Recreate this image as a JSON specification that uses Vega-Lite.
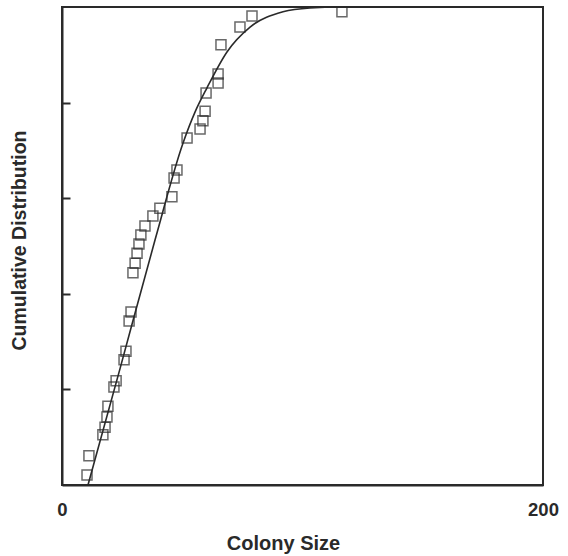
{
  "$schema": "https://vega.github.io/schema/vega-lite/v6.json",
  "width": 481,
  "height": 478,
  "autosize": "none",
  "padding": {"left": 62, "top": 7, "right": 25, "bottom": 71},
  "background": "white",
  "config": {
    "view": {"stroke": "#2a2a2a", "strokeWidth": 2},
    "font": "Liberation Sans",
    "axis": {"grid": false, "domainColor": "#2a2a2a", "domainWidth": 2, "tickColor": "#2a2a2a", "tickWidth": 2, "labelColor": "#2a2a2a", "titleColor": "#2a2a2a", "labelFont": "Liberation Sans", "titleFont": "Liberation Sans", "labelFontWeight": "bold", "titleFontWeight": "bold"}
  },
  "datasets": {
    "pts": [
      {"size": 10.4, "cum": 0.021}, {"size": 11.2, "cum": 0.061}, {"size": 17.0, "cum": 0.105}, {"size": 17.9, "cum": 0.121},
      {"size": 18.7, "cum": 0.142}, {"size": 19.1, "cum": 0.165}, {"size": 21.6, "cum": 0.205}, {"size": 22.5, "cum": 0.218},
      {"size": 25.8, "cum": 0.262}, {"size": 26.6, "cum": 0.280}, {"size": 27.9, "cum": 0.343}, {"size": 28.7, "cum": 0.362},
      {"size": 29.5, "cum": 0.444}, {"size": 30.4, "cum": 0.464}, {"size": 31.2, "cum": 0.485}, {"size": 32.0, "cum": 0.504},
      {"size": 32.8, "cum": 0.523}, {"size": 34.5, "cum": 0.542}, {"size": 37.8, "cum": 0.563}, {"size": 40.7, "cum": 0.579},
      {"size": 45.7, "cum": 0.603}, {"size": 46.6, "cum": 0.642}, {"size": 47.8, "cum": 0.659}, {"size": 52.0, "cum": 0.726},
      {"size": 57.4, "cum": 0.745}, {"size": 58.6, "cum": 0.762}, {"size": 59.5, "cum": 0.782}, {"size": 59.9, "cum": 0.820},
      {"size": 64.9, "cum": 0.841}, {"size": 64.9, "cum": 0.860}, {"size": 66.1, "cum": 0.921}, {"size": 74.0, "cum": 0.958},
      {"size": 79.0, "cum": 0.981}, {"size": 116.4, "cum": 0.990}
    ],
    "fit": [
      {"size": 10.8, "cum": 0.0}, {"size": 24.1, "cum": 0.243}, {"size": 38.7, "cum": 0.513}, {"size": 50.3, "cum": 0.715},
      {"size": 55.3, "cum": 0.780}, {"size": 60.3, "cum": 0.831}, {"size": 68.6, "cum": 0.906}, {"size": 78.2, "cum": 0.958},
      {"size": 91.9, "cum": 0.990}, {"size": 103.1, "cum": 0.998}, {"size": 115.6, "cum": 1.0}, {"size": 200, "cum": 1.0}
    ]
  },
  "layer": [
    {
      "data": {"name": "fit"},
      "mark": {"type": "line", "interpolate": "monotone", "color": "#2a2a2a", "strokeWidth": 1.6},
      "encoding": {
        "x": {"field": "size", "type": "quantitative", "scale": {"domain": [0, 200], "nice": false},
          "axis": {"title": "Colony Size", "values": [0, 200], "ticks": false, "labelFlush": false, "labelPadding": 15, "labelFontSize": 18.5, "titleFontSize": 20, "titleX": 221, "titleY": 64, "titleBaseline": "alphabetic", "titleAlign": "center"}},
        "y": {"field": "cum", "type": "quantitative", "scale": {"domain": [0, 1], "nice": false},
          "axis": {"title": "Cumulative Distribution", "values": [0.2, 0.4, 0.6, 0.8], "labels": false, "tickSize": -8, "titleFontSize": 19.5, "titleX": -43, "titleY": 233, "titleAngle": 270, "titleAlign": "center", "titleBaseline": "middle"}}
      }
    },
    {
      "data": {"name": "pts"},
      "mark": {"type": "square", "filled": false, "color": "#2a2a2a", "strokeWidth": 1.5, "size": 100},
      "encoding": {
        "x": {"field": "size", "type": "quantitative"},
        "y": {"field": "cum", "type": "quantitative"}
      }
    }
  ]
}
